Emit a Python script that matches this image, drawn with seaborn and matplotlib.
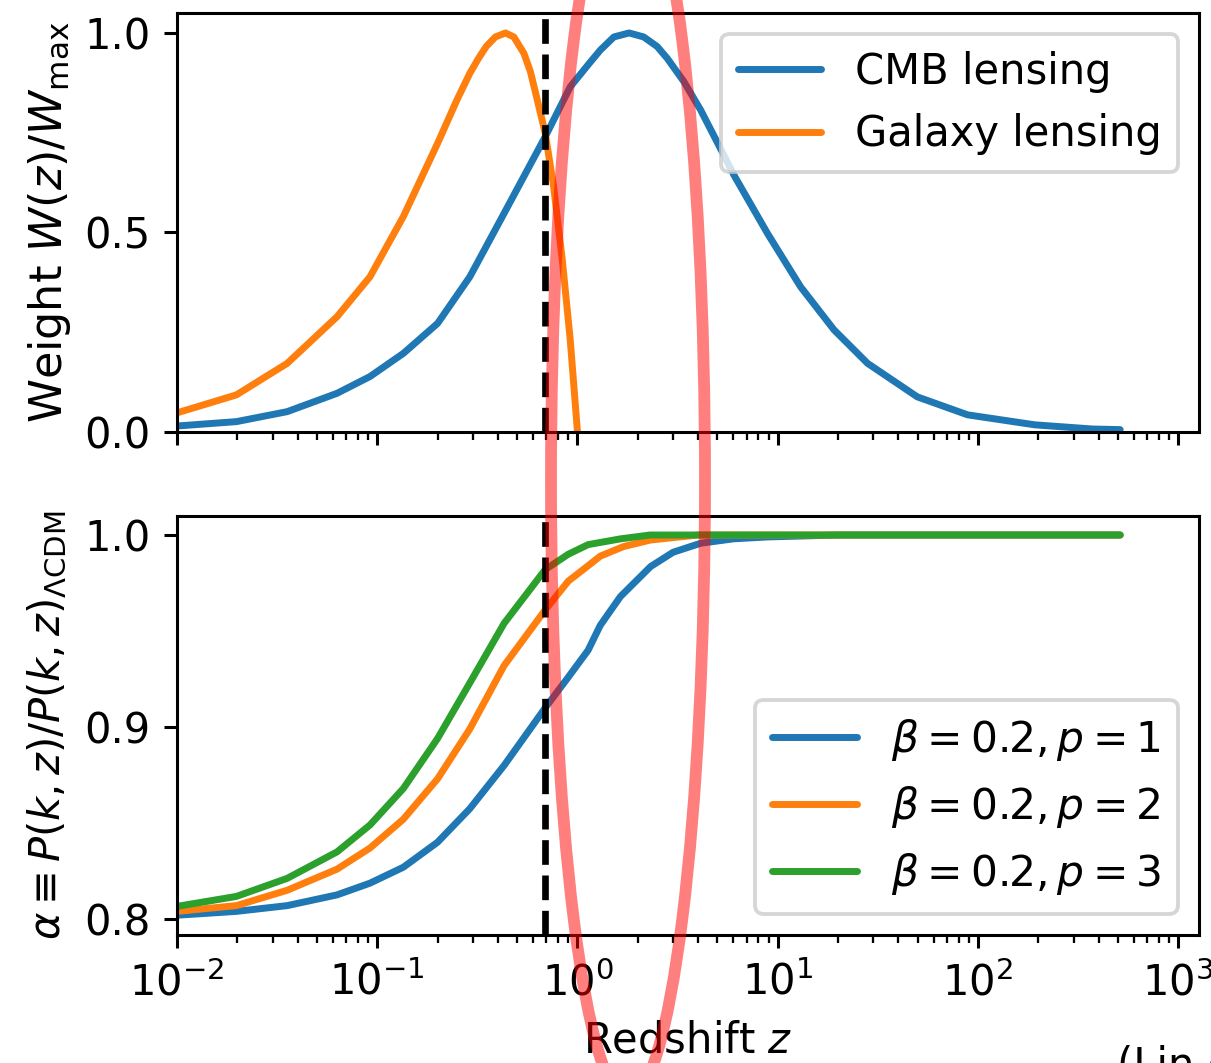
import numpy as np
import matplotlib
matplotlib.use("Agg")
import matplotlib.pyplot as plt
from matplotlib.patches import Ellipse
import seaborn as sns

# -----------------------------
# Data
# -----------------------------
z_cmb = [0.01, 0.0198, 0.0355, 0.063, 0.092, 0.135, 0.2, 0.29, 0.43, 0.69,
         0.92, 1.15, 1.3, 1.52, 1.81, 2.14, 2.5, 2.81, 3.4, 4.12, 5.0, 6.04,
         8.88, 13.0, 19.1, 28.1, 49.8, 88.8, 192, 373, 513]
w_cmb = [0.015, 0.026, 0.051, 0.097, 0.139, 0.197, 0.272, 0.389, 0.548, 0.740,
         0.865, 0.925, 0.957, 0.990, 1.0, 0.990, 0.966, 0.936, 0.878, 0.807, 0.725, 0.644,
         0.498, 0.364, 0.256, 0.172, 0.088, 0.043, 0.018, 0.0075, 0.006]

z_gal = [0.01, 0.0198, 0.0355, 0.063, 0.092, 0.135, 0.2, 0.25, 0.29, 0.321, 0.35,
         0.389, 0.437, 0.481, 0.54, 0.582, 0.63, 0.69, 0.76, 0.84, 0.92, 1.0]
w_gal = [0.048, 0.093, 0.172, 0.289, 0.389, 0.540, 0.723, 0.832, 0.899, 0.937, 0.966,
         0.990, 1.0, 0.990, 0.949, 0.903, 0.832, 0.749, 0.615, 0.431, 0.231, 0.0]

z_p1 = [0.01, 0.0198, 0.0355, 0.063, 0.092, 0.135, 0.2, 0.29, 0.43, 0.69,
        0.9, 1.13, 1.3, 1.64, 2.32, 3.0, 4.12, 6.0, 8.9, 20, 513]
a_p1 = [0.802, 0.804, 0.807, 0.8126, 0.8187, 0.827, 0.840, 0.8575, 0.880, 0.910,
        0.926, 0.940, 0.953, 0.968, 0.9836, 0.991, 0.9957, 0.998, 0.999, 1.0, 1.0]

z_p2 = [0.01, 0.0198, 0.0355, 0.063, 0.092, 0.135, 0.2, 0.29, 0.43, 0.69,
        0.9, 1.13, 1.3, 1.7, 2.32, 4.0, 513]
a_p2 = [0.804, 0.807, 0.815, 0.826, 0.837, 0.852, 0.873, 0.899, 0.932, 0.961,
        0.976, 0.984, 0.989, 0.994, 0.9974, 1.0, 1.0]

z_p3 = [0.01, 0.0198, 0.0355, 0.063, 0.092, 0.135, 0.2, 0.29, 0.43, 0.69,
        0.9, 1.13, 1.64, 2.3, 513]
a_p3 = [0.8066, 0.8118, 0.8212, 0.835, 0.849, 0.868, 0.894, 0.923, 0.954, 0.982,
        0.990, 0.995, 0.998, 1.0, 1.0]

z_mark = 0.69

labels_top = ["CMB lensing", "Galaxy lensing"]
labels_bot = [r"$\beta=0.2, p=1$", r"$\beta=0.2, p=2$", r"$\beta=0.2, p=3$"]

# -----------------------------
# Style (scaled-up matplotlib defaults)
# -----------------------------
sns.set_style("ticks")
s = 2.75
plt.rcParams.update({
    "font.family": ["DejaVu Sans"],
    "mathtext.fontset": "dejavusans",
    "font.size": 30,
    "text.color": "black",
    "axes.labelcolor": "black",
    "axes.linewidth": 0.8 * s,
    "axes.edgecolor": "black",
    "xtick.major.size": 3.5 * s, "ytick.major.size": 3.5 * s,
    "xtick.minor.size": 2 * s, "ytick.minor.size": 2 * s,
    "xtick.major.width": 0.8 * s, "ytick.major.width": 0.8 * s,
    "xtick.minor.width": 0.6 * s, "ytick.minor.width": 0.6 * s,
    "xtick.major.pad": 3.5 * s, "ytick.major.pad": 3.5 * s,
    "xtick.color": "black", "ytick.color": "black",
    "xtick.labelcolor": "black", "ytick.labelcolor": "black",
    "axes.labelpad": 4 * s,
    "legend.fontsize": 30,
})
colors = sns.color_palette("tab10")
lw = 5.0

fig = plt.figure(figsize=(12.11, 10.63), dpi=100)
ax1 = fig.add_axes([0.14616, 0.5936, 0.84393, 0.39417])
ax2 = fig.add_axes([0.14616, 0.12041, 0.84393, 0.39417], sharex=ax1)

# -----------------------------
# Top panel: lensing weights
# -----------------------------
sns.lineplot(x=z_cmb, y=w_cmb, ax=ax1, color=colors[0], linewidth=lw,
             label=labels_top[0], sort=False)
sns.lineplot(x=z_gal, y=w_gal, ax=ax1, color=colors[1], linewidth=lw,
             label=labels_top[1], sort=False)
ax1.axvline(z_mark, color="black", ls="--", linewidth=4.8)
ax1.set_xscale("log")
ax1.set_xlim(0.01, 1270)
ax1.set_ylim(0, 1.05)
ax1.set_yticks([0.0, 0.5, 1.0])
ax1.set_ylabel(r"Weight $W(z)/W_{\rm max}$", fontsize=32, labelpad=8)
ax1.tick_params(labelbottom=False)
leg1 = ax1.legend(loc="upper right", handlelength=2.0)
leg1.get_frame().set_linewidth(1.0 * s)

# -----------------------------
# Bottom panel: suppression
# -----------------------------
for zz, aa, c, lab in zip([z_p1, z_p2, z_p3], [a_p1, a_p2, a_p3], colors[:3], labels_bot):
    sns.lineplot(x=zz, y=aa, ax=ax2, color=c, linewidth=lw, label=lab, sort=False)
ax2.axvline(z_mark, color="black", ls="--", linewidth=4.8)
ax2.set_ylim(0.7917, 1.0099)
ax2.set_yticks([0.8, 0.9, 1.0])
ax2.set_ylabel(r"$\alpha \equiv P(k,z)/P(k,z)_{\Lambda{\rm CDM}}$")
ax2.set_xlabel(r"Redshift $z$")
leg2 = ax2.legend(loc="lower right", handlelength=2.0, fontsize=30.5)
leg2.get_frame().set_linewidth(1.0 * s)

for ax in (ax1, ax2):
    ax.yaxis.set_major_formatter(matplotlib.ticker.FormatStrFormatter("%.1f"))

# partially visible caption at the bottom right
fig.text(1117 / 1211, 1 - 1045 / 1063, "(Lin et al.)", ha="left", va="top", fontsize=30)

# red highlight ellipse drawn on top of everything
ell = Ellipse((628 / 1211, 1 - 480 / 1063), 154 / 1211, 1238 / 1063,
              transform=fig.transFigure, fill=False, edgecolor="red",
              alpha=0.5, linewidth=8.5, zorder=10)
fig.add_artist(ell)

fig.savefig("out.png", dpi=100)
